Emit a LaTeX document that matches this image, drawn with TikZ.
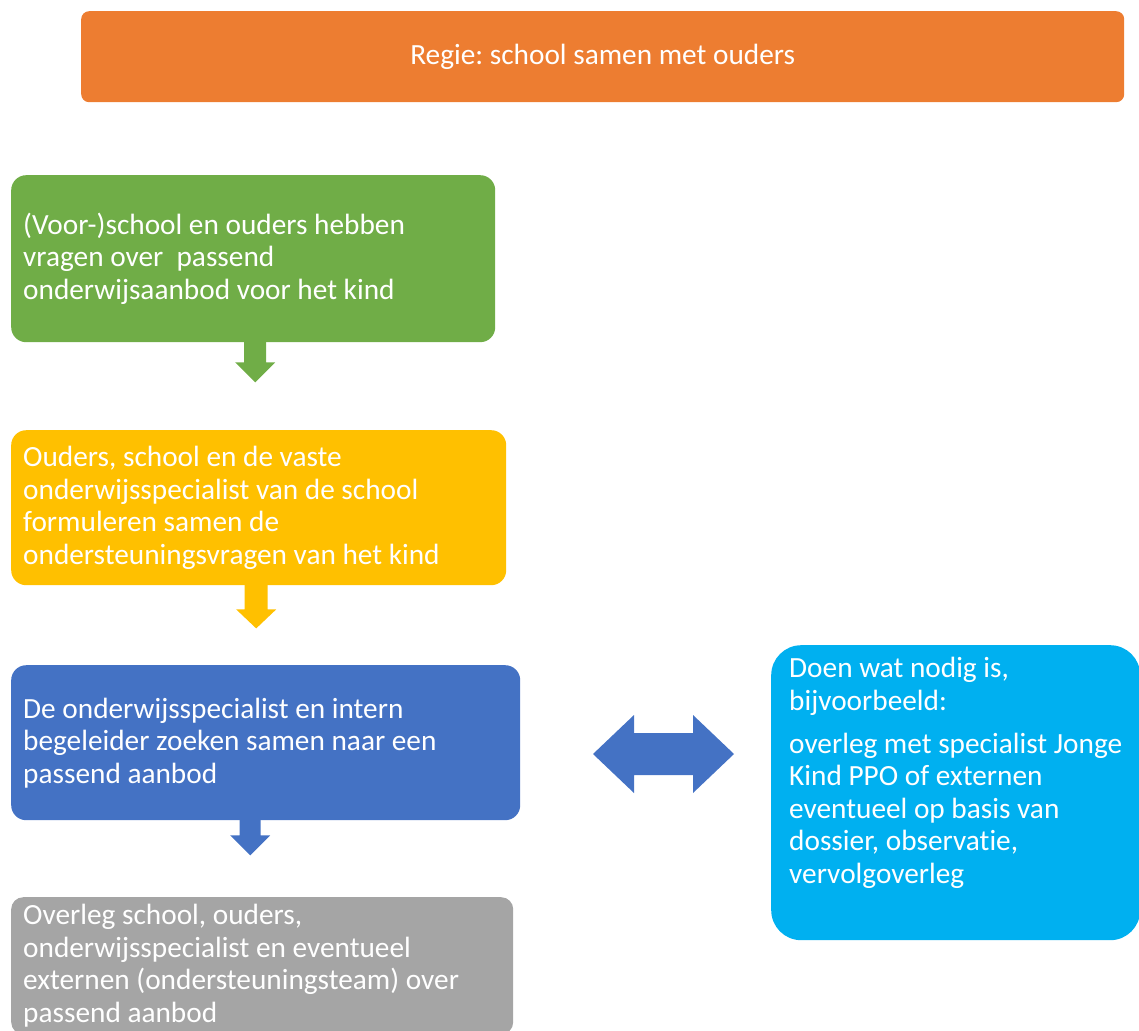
\documentclass[tikz,border=0pt]{standalone}
\usepackage{fontspec}
\setmainfont{Carlito}[Ligatures=NoCommon]
\frenchspacing
\usetikzlibrary{calc}
\definecolor{cOrange}{HTML}{ED7D31}
\definecolor{cGreen}{HTML}{70AD47}
\definecolor{cYellow}{HTML}{FFC000}
\definecolor{cBlue}{HTML}{4472C4}
\definecolor{cGrey}{HTML}{A5A5A5}
\definecolor{cCyan}{HTML}{00B0F0}
\newcommand\natsp{\spaceskip=0pt\xspaceskip=0pt\relax}
\begin{document}
\begin{tikzpicture}[x=1pt,y=-1pt,
  boxtext/.style={text=white, font=\fontsize{29.3}{32.5}\selectfont\frenchspacing},
  box/.style={boxtext, rounded corners=15pt, inner xsep=12pt, inner ysep=0pt,
    align=left, anchor=north west},
]
\useasboundingbox (0,0) rectangle (1139,1030);
\clip (0,0) rectangle (1139,1030);

\node[box, fill=cOrange, rounded corners=8pt, align=center, minimum width=1043pt,
  minimum height=91pt] (regie) at (81,11) {Regie: school samen met ouders};

\node[box, fill=cGreen, text width=460pt, minimum height=167pt] (green) at (11,175)
  {\natsp (Voor-)school en ouders hebben\\ vragen over \ passend\\ onderwijsaanbod voor het kind};

\node[box, fill=cYellow, text width=471pt, minimum height=155pt] (yellow) at (11,430)
  {\natsp Ouders, school en de vaste\\ onderwijsspecialist van de school\\ formuleren samen de\\ ondersteuningsvragen van het kind};

\node[box, fill=cBlue, text width=485pt, minimum height=155pt] (blue) at (11,665)
  {\natsp De onderwijsspecialist en intern\\ begeleider zoeken samen naar een\\ passend aanbod};

\node[box, fill=cGrey, rounded corners=12pt, text width=478pt, minimum height=137pt] (grey) at (11,897)
  {\natsp Overleg school, ouders,\\ onderwijsspecialist en eventueel\\ externen (ondersteuningsteam) over\\ passend aanbod};

\node[box, fill=cCyan, rounded corners=30pt, minimum width=369pt, minimum height=295pt] (cyan) at (771,645) {};
\node[boxtext, anchor=north west, inner sep=0pt, align=left] (cyantext) at ([xshift=18pt,yshift=-12pt]cyan.north west)
  {Doen wat nodig is,\\ bijvoorbeeld:\\[10.5pt] overleg met specialist Jonge\\ Kind PPO of externen\\ eventueel op basis van\\ dossier, observatie,\\ vervolgoverleg};

% block arrows
\fill[cGreen] ([xshift=2pt]green.south) ++(-11,-1) -- ++(0,21) -- ++(-9,0) -- ++(20,20)
  -- ++(20,-20) -- ++(-9,0) -- ++(0,-21) -- cycle;
\fill[cYellow] ([xshift=-2.5pt]yellow.south) ++(-11.5,-1) -- ++(0,25) -- ++(-8.5,0) -- ++(20,19)
  -- ++(20,-19) -- ++(-8.5,0) -- ++(0,-25) -- cycle;
\fill[cBlue] ([xshift=-15.5pt]blue.south) ++(-10.5,-1) -- ++(0,16) -- ++(-9.5,0) -- ++(20,20)
  -- ++(20,-20) -- ++(-9.5,0) -- ++(0,-16) -- cycle;

\coordinate (da) at (663,754);
\fill[cBlue] (da) ++(-70,0) -- ++(41,-39) -- ++(0,18) -- ++(59,0) -- ++(0,-18) -- ++(41,39)
  -- ++(-41,39) -- ++(0,-18) -- ++(-59,0) -- ++(0,18) -- cycle;
\end{tikzpicture}
\end{document}
